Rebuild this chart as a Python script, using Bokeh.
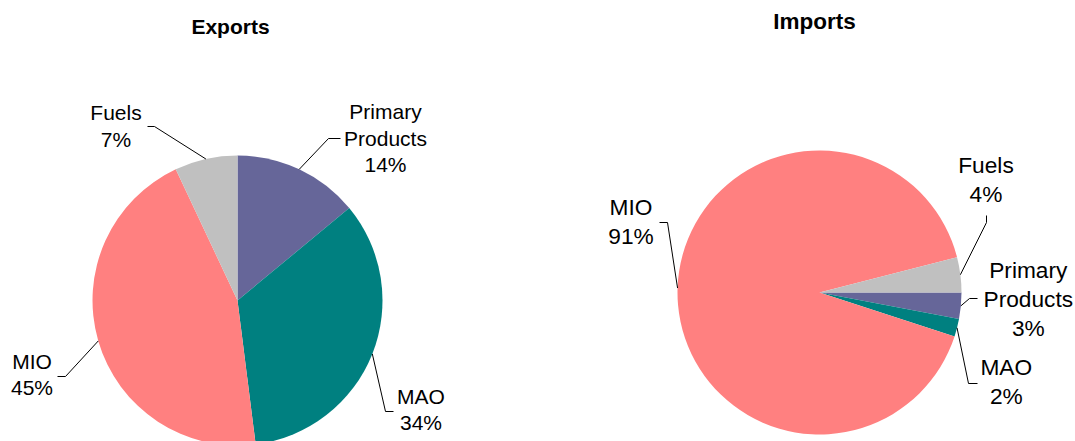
import numpy as np
from bokeh.plotting import figure
from bokeh.models import Range1d
from bokeh.embed import file_html
from bokeh.resources import INLINE
from bokeh.core.properties import value

# ---------------- data ----------------
categories = ["Primary Products", "MAO", "MIO", "Fuels"]
label_lines = [["Primary", "Products"], ["MAO"], ["MIO"], ["Fuels"]]
exports_pct = [14, 34, 45, 7]
imports_pct = [3, 2, 91, 4]
colors = ["#666699", "#008080", "#FF8080", "#C0C0C0"]
titles = ["Exports", "Imports"]

# ---------------- layout (pixel space, y down) ----------------
W, H = 1075, 441
FONT = "Liberation Sans"
TEXT_DY = 8.5      # correction for the renderer's text baseline
TITLE_DY = 7.5

pies = [
    dict(values=exports_pct, title=titles[0], cx=237, cy=300, r=145, start=0.0,
         fs=21, lh=26.5, title_xy=(230, 33.5), title_fs=21,
         labels=[(385, 119.5), (420.5, 404), (31.5, 369.3), (115.5, 120.5)],
         ends=[(340, 138), (393, 411), (57, 376), (147, 126)],
         elbows=[(328, 138), (385, 411), (65, 376), (154, 126)]),
    dict(values=imports_pct, title=titles[1], cx=819, cy=292, r=142, start=90.0,
         fs=22.7, lh=29, title_xy=(814, 28.5), title_fs=22.5,
         labels=[(1027.8, 278.3), (1005.8, 375), (630.5, 215), (985.5, 172.5)],
         ends=[(977, 298), (977, 383), (659, 222), (986, 215)],
         elbows=[(969, 298), (968, 383), (667, 222), (986, 222)]),
]


def Y(y):
    return H - y


p = figure(width=W, height=H, x_range=Range1d(0, W), y_range=Range1d(0, H),
           output_backend="svg", toolbar_location=None, min_border=0,
           x_axis_location=None, y_axis_location=None)
p.grid.visible = False
p.outline_line_color = None
p.background_fill_color = "white"
p.border_fill_color = "white"

for pie in pies:
    vals = np.array(pie["values"], dtype=float)
    total = vals.sum()
    cum = np.concatenate([[0], np.cumsum(vals)])
    th0 = pie["start"] + 360.0 * cum[:-1] / total   # clockwise from 12 o'clock
    th1 = pie["start"] + 360.0 * cum[1:] / total
    cx, cy, r = pie["cx"], pie["cy"], pie["r"]

    p.wedge(x=[cx] * len(vals), y=[Y(cy)] * len(vals), radius=r,
            start_angle=np.radians(90 - th0), end_angle=np.radians(90 - th1),
            direction="clock", fill_color=colors, line_color=None)

    # title
    p.text(x=[pie["title_xy"][0]], y=[Y(pie["title_xy"][1] - TITLE_DY)], text=[pie["title"]],
           text_align="center", text_baseline="alphabetic",
           text_font=value(FONT), text_font_size=value(f"{pie['title_fs']}px"),
           text_font_style="bold", text_color="black")

    mid = np.radians((th0 + th1) / 2)
    for i, v in enumerate(pie["values"]):
        # leader line: label end -> elbow -> pie edge at slice middle
        ex = cx + r * np.sin(mid[i])
        ey = cy - r * np.cos(mid[i])
        (ax, ay), (bx, by) = pie["ends"][i], pie["elbows"][i]
        p.line(x=[ax, bx, ex], y=[Y(ay), Y(by), Y(ey)], line_color="black", line_width=1)

        lines = label_lines[i] + [f"{v}%"]
        lx, ly = pie["labels"][i]
        p.text(x=[lx] * len(lines),
               y=[Y(ly - TEXT_DY + k * pie["lh"]) for k in range(len(lines))],
               text=lines, text_align="center", text_baseline="alphabetic",
               text_font=value(FONT), text_font_size=value(f"{pie['fs']}px"),
               text_color="black")

open("out.html", "w").write(file_html(p, INLINE))
